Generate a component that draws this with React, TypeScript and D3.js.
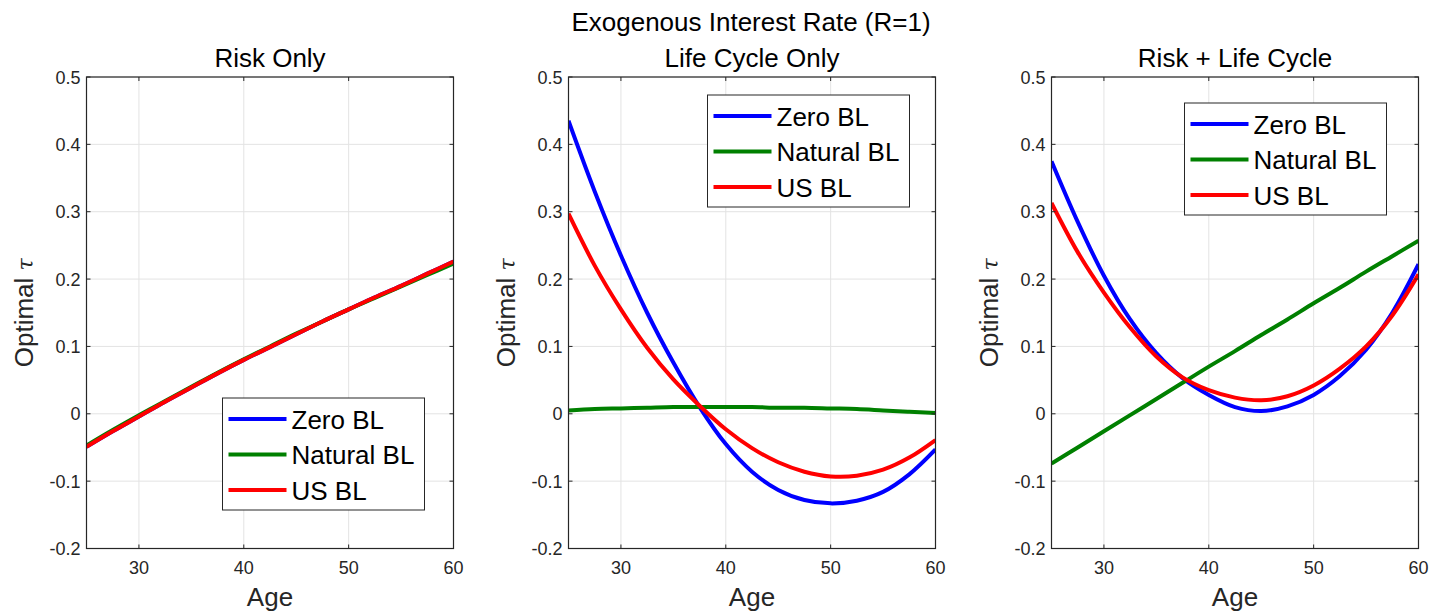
import React from "react";
import * as d3 from "d3";

const ages = [25, 27.5, 30, 32.5, 35, 37.5, 40, 42.5, 45, 47.5, 50, 52.5, 55, 57.5, 60];

// Panel 1: Risk Only
const riskZero = [-0.049, -0.026, -0.004, 0.018, 0.039, 0.06, 0.08, 0.099, 0.118, 0.137, 0.155, 0.173, 0.19, 0.208, 0.226];
const riskNatural = [-0.047, -0.024, -0.002, 0.019, 0.04, 0.061, 0.081, 0.1, 0.119, 0.137, 0.155, 0.172, 0.189, 0.206, 0.223];
const riskUS = [-0.049, -0.026, -0.004, 0.018, 0.039, 0.06, 0.08, 0.099, 0.118, 0.137, 0.155, 0.173, 0.19, 0.208, 0.226];

// Panel 2: Life Cycle Only
const lcZero = [0.435, 0.33, 0.235, 0.15, 0.076, 0.01, -0.045, -0.086, -0.113, -0.128, -0.133, -0.129, -0.116, -0.09, -0.053];
const lcNatural = [0.005, 0.007, 0.008, 0.009, 0.01, 0.01, 0.01, 0.01, 0.009, 0.009, 0.008, 0.007, 0.005, 0.003, 0.001];
const lcUS = [0.297, 0.22, 0.155, 0.098, 0.051, 0.012, -0.023, -0.051, -0.072, -0.086, -0.093, -0.092, -0.083, -0.065, -0.039];

// Panel 3: Risk + Life Cycle
const rlcZero = [0.375, 0.285, 0.205, 0.14, 0.09, 0.053, 0.028, 0.01, 0.004, 0.011, 0.028, 0.056, 0.095, 0.15, 0.222];
const rlcNatural = [-0.074, -0.05, -0.026, -0.002, 0.022, 0.046, 0.07, 0.093, 0.117, 0.14, 0.164, 0.187, 0.211, 0.234, 0.257];
const rlcUS = [0.313, 0.24, 0.18, 0.128, 0.085, 0.054, 0.035, 0.024, 0.02, 0.026, 0.042, 0.067, 0.1, 0.146, 0.207];

const seriesNames = ["Zero BL", "Natural BL", "US BL"];
const seriesColors = ["#0000ff", "#008000", "#ff0000"];
const xTicks = [30, 40, 50, 60];
const yTicks = [-0.2, -0.1, 0, 0.1, 0.2, 0.3, 0.4, 0.5];
const mainTitle = "Exogenous Interest Rate (R=1)";

const panels = [
  { title: "Risk Only", data: [riskZero, riskNatural, riskUS], left: 86.5, legend: { x: 136, y: 321 } },
  { title: "Life Cycle Only", data: [lcZero, lcNatural, lcUS], left: 568.5, legend: { x: 139, y: 18 } },
  { title: "Risk + Life Cycle", data: [rlcZero, rlcNatural, rlcUS], left: 1051.5, legend: { x: 133, y: 26 } },
];

const W = 1429;
const H = 614;
const plotW = 367;
const top = 77;
const bottom = 548.5;
const FONT = "'Liberation Sans', Arial, Helvetica, sans-serif";
const axisColor = "#262626";

function fmt(v: number) {
  if (Math.abs(v) < 1e-9) return "0";
  return String(Math.round(v * 10) / 10);
}

function Panel({ p }: { p: (typeof panels)[number] }) {
  const x = d3.scaleLinear().domain([25, 60]).range([p.left, p.left + plotW]);
  const y = d3.scaleLinear().domain([-0.2, 0.5]).range([bottom, top]);
  const line = d3
    .line<number>()
    .x((_, i) => x(ages[i]))
    .y((d) => y(d))
    .curve(d3.curveCatmullRom.alpha(0.5));
  const tl = 4;
  const lgX = p.left + p.legend.x;
  const lgY = top + p.legend.y;
  return (
    <g>
      {xTicks.map((t) => (
        <line key={"gx" + t} x1={x(t)} x2={x(t)} y1={top} y2={bottom} stroke="#e3e3e3" strokeWidth={1} />
      ))}
      {yTicks.map((t) => (
        <line key={"gy" + t} x1={p.left} x2={p.left + plotW} y1={y(t)} y2={y(t)} stroke="#e3e3e3" strokeWidth={1} />
      ))}
      <defs>
        <clipPath id={"clip" + p.left}>
          <rect x={p.left} y={top} width={plotW} height={bottom - top} />
        </clipPath>
      </defs>
      <g clipPath={`url(#clip${p.left})`}>
        {p.data.map((s, i) => (
          <path key={i} d={line(s) || ""} fill="none" stroke={seriesColors[i]} strokeWidth={4} />
        ))}
      </g>
      <rect x={p.left} y={top} width={plotW} height={bottom - top} fill="none" stroke={axisColor} strokeWidth={1.2} />
      {xTicks.map((t) => (
        <g key={"tx" + t}>
          <line x1={x(t)} x2={x(t)} y1={bottom} y2={bottom - tl} stroke={axisColor} />
          <line x1={x(t)} x2={x(t)} y1={top} y2={top + tl} stroke={axisColor} />
          <text x={x(t)} y={bottom + 25} textAnchor="middle" fontSize={18} fill={axisColor} fontFamily={FONT}>
            {t}
          </text>
        </g>
      ))}
      {yTicks.map((t) => (
        <g key={"ty" + t}>
          <line x1={p.left} x2={p.left + tl} y1={y(t)} y2={y(t)} stroke={axisColor} />
          <line x1={p.left + plotW} x2={p.left + plotW - tl} y1={y(t)} y2={y(t)} stroke={axisColor} />
          <text x={p.left - 6} y={y(t) + 6.5} textAnchor="end" fontSize={18} fill={axisColor} fontFamily={FONT}>
            {fmt(t)}
          </text>
        </g>
      ))}
      <text x={p.left + plotW / 2} y={66.5} textAnchor="middle" fontSize={26} fill="#000" fontFamily={FONT}>
        {p.title}
      </text>
      <text x={p.left + plotW / 2} y={606} textAnchor="middle" fontSize={26} fill={axisColor} fontFamily={FONT}>
        Age
      </text>
      <text
        transform={`translate(${p.left - 54},${(top + bottom) / 2}) rotate(-90)`}
        textAnchor="middle"
        fontSize={26}
        fill={axisColor}
        fontFamily={FONT}
      >
        Optimal <tspan fontFamily="'DejaVu Serif', serif" fontStyle="italic" fontSize={22}>τ</tspan>
      </text>
      <rect x={lgX} y={lgY} width={202} height={112} fill="#fff" stroke={axisColor} strokeWidth={1} />
      {seriesNames.map((n, i) => {
        const ry = lgY + 21 + i * 35.5;
        return (
          <g key={n}>
            <line x1={lgX + 6} x2={lgX + 64} y1={ry} y2={ry} stroke={seriesColors[i]} strokeWidth={4} />
            <text x={lgX + 69} y={ry + 9.5} fontSize={26} fill="#000" fontFamily={FONT}>
              {n}
            </text>
          </g>
        );
      })}
    </g>
  );
}

export default function App() {
  return (
    <svg width={W} height={H} style={{ display: "block", position: "absolute", left: 0, top: 0, background: "#fff" }}>
      <rect x={0} y={0} width={W} height={H} fill="#fff" />
      <text x={751} y={30.5} textAnchor="middle" fontSize={26} fill="#000" fontFamily={FONT}>
        {mainTitle}
      </text>
      {panels.map((p) => (
        <Panel key={p.title} p={p} />
      ))}
    </svg>
  );
}
